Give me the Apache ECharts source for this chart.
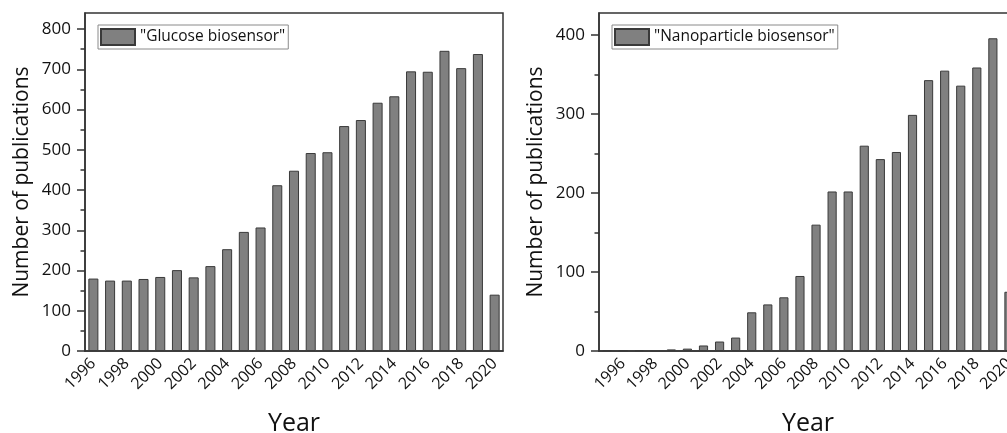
<!DOCTYPE html>
<html>
<head>
<meta charset="utf-8">
<script src="https://cdn.jsdelivr.net/npm/echarts@6/dist/echarts.min.js"></script>
<style>
  html, body { margin: 0; padding: 0; background: #fff; }
  #main { width: 1007px; height: 433px; }
</style>
</head>
<body>
<div id="main"></div>
<script>
const yearsGlucose = ['1996', '1997', '1998', '1999', '2000', '2001', '2002', '2003', '2004', '2005', '2006', '2007', '2008',
  '2009', '2010', '2011', '2012', '2013', '2014', '2015', '2016', '2017', '2018', '2019', '2020'];
const glucose = [180, 175, 175, 179, 184, 201, 183, 211, 253, 296, 307, 412, 448,
  492, 494, 559, 574, 617, 633, 695, 694, 746, 703, 738, 140];

const yearsNano = ['1995', '1996', '1997', '1998', '1999', '2000', '2001', '2002', '2003', '2004', '2005', '2006', '2007',
  '2008', '2009', '2010', '2011', '2012', '2013', '2014', '2015', '2016', '2017', '2018', '2019', '2020'];
const nano = [1, 1, 1, 0, 2, 3, 7, 12, 17, 49, 59, 68, 95,
  160, 202, 202, 260, 243, 252, 299, 343, 355, 336, 359, 396, 75];

const glucoseTicks = [0, 100, 200, 300, 400, 500, 600, 700, 800];
const glucoseMinorTicks = [50, 150, 250, 350, 450, 550, 650, 750];
const nanoTicks = [0, 100, 200, 300, 400];
const nanoMinorTicks = [50, 150, 250, 350];

const FONT = 'Open Sans';
const INK = '#111';
const LINE = '#333';

const evenYear = (i, v) => Number(v) % 2 === 0;

const yearAxis = (grid, data) => ({
  type: 'category',
  gridIndex: grid,
  data: data,
  position: 'bottom',
  axisLine: { lineStyle: { color: LINE, width: 1.5 } },
  axisTick: { alignWithLabel: true, length: 8, interval: evenYear, lineStyle: { color: LINE, width: 1.5 } },
  axisLabel: { interval: evenYear, rotate: 45, margin: 10, fontSize: 16, color: INK, fontFamily: FONT },
  name: 'Year',
  nameLocation: 'middle',
  nameGap: 60,
  nameTextStyle: { fontSize: 25, color: INK, fontFamily: FONT },
});

const yearMinorAxis = (grid, data) => ({
  type: 'category',
  gridIndex: grid,
  data: data,
  position: 'bottom',
  axisLine: { show: false },
  axisTick: { alignWithLabel: true, interval: 0, length: 4, lineStyle: { color: LINE, width: 1.5 } },
  axisLabel: { show: false },
});

const countAxis = (grid, max, ticks) => ({
  type: 'value',
  gridIndex: grid,
  min: 0,
  max: max,
  position: 'left',
  splitLine: { show: false },
  axisLine: { show: true, lineStyle: { color: LINE, width: 1.5 } },
  axisTick: { show: true, length: 8, customValues: ticks, lineStyle: { color: LINE, width: 1.5 } },
  axisLabel: { customValues: ticks, margin: 14, fontSize: 17, color: INK, fontFamily: FONT },
  name: 'Number of publications',
  nameLocation: 'middle',
  nameRotate: 90,
  nameGap: 52,
  nameTextStyle: { fontSize: 21, color: INK, fontFamily: FONT },
});

const countMinorAxis = (grid, max, ticks) => ({
  type: 'value',
  gridIndex: grid,
  min: 0,
  max: max,
  position: 'left',
  splitLine: { show: false },
  axisLine: { show: false },
  axisTick: { show: true, length: 4.5, customValues: ticks, lineStyle: { color: LINE, width: 1.5 } },
  axisLabel: { show: false },
});

const legendBox = (left, name) => ({
  data: [name],
  left: left,
  top: 25,
  itemWidth: 34,
  itemHeight: 16,
  padding: [3, 3, 3, 2],
  borderColor: '#8a8a8a',
  borderWidth: 1,
  icon: 'rect',
  textStyle: { fontSize: 15.5, color: INK, fontFamily: FONT },
});

const barStyle = { color: '#808080', borderColor: '#3a3a3a', borderWidth: 1 };

const chart = echarts.init(document.getElementById('main'));

chart.setOption({
  animation: false,
  textStyle: { fontFamily: FONT },
  grid: [
    { left: 85, right: 504, top: 13, bottom: 82, outerBoundsMode: 'none', containLabel: false,
      show: true, borderColor: LINE, borderWidth: 1.5 },
    { left: 599, right: -10, top: 13, bottom: 82, outerBoundsMode: 'none', containLabel: false,
      show: true, borderColor: LINE, borderWidth: 1.5 },
  ],
  legend: [
    legendBox(98, '"Glucose biosensor"'),
    legendBox(612, '"Nanoparticle biosensor"'),
  ],
  xAxis: [
    yearAxis(0, yearsGlucose),
    yearMinorAxis(0, yearsGlucose),
    yearAxis(1, yearsNano),
    yearMinorAxis(1, yearsNano),
  ],
  yAxis: [
    countAxis(0, 840, glucoseTicks),
    countMinorAxis(0, 840, glucoseMinorTicks),
    countAxis(1, 428, nanoTicks),
    countMinorAxis(1, 428, nanoMinorTicks),
  ],
  series: [
    {
      name: '"Glucose biosensor"',
      type: 'bar',
      xAxisIndex: 0,
      yAxisIndex: 0,
      barWidth: '60%',
      itemStyle: barStyle,
      data: glucose,
    },
    {
      name: '"Nanoparticle biosensor"',
      type: 'bar',
      xAxisIndex: 2,
      yAxisIndex: 2,
      barWidth: '57%',
      itemStyle: barStyle,
      data: nano,
    },
  ],
});
</script>
</body>
</html>
